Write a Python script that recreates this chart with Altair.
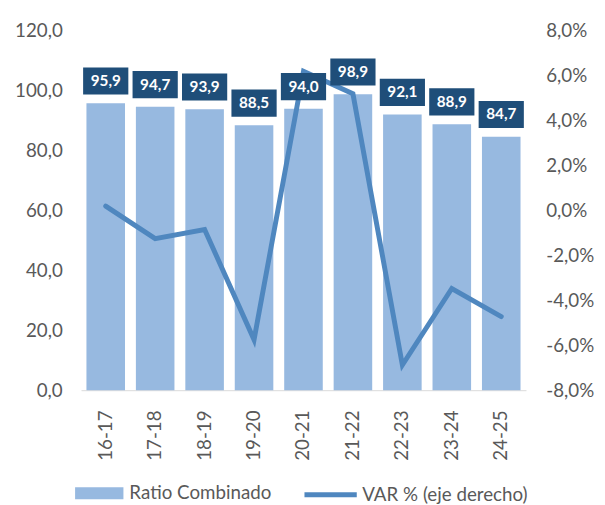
import altair as alt
import pandas as pd

categories = ["16-17", "17-18", "18-19", "19-20", "20-21", "21-22", "22-23", "23-24", "24-25"]
ratio = [95.9, 94.7, 93.9, 88.5, 94.0, 98.9, 92.1, 88.9, 84.7]
var_pct = [0.002, -0.0125, -0.0084, -0.0575, 0.0621, 0.0521, -0.0688, -0.0347, -0.0472]

df = pd.DataFrame({
    "cat": categories,
    "ratio": ratio,
    "var": var_pct,
    "s1": "Ratio Combinado",
    "s2": "VAR % (eje derecho)",
})

FONT = "Lato"
GRAY = "#595959"
BAR = "#97B9E0"
BOX = "#1F4E79"
LINE = "#4F87BF"
FS = 19

x = alt.X("cat:N", sort=categories, title=None,
          scale=alt.Scale(paddingInner=0.22, paddingOuter=0.11),
          axis=alt.Axis(labelAngle=-90, labelFontSize=FS, labelColor=GRAY, labelFont=FONT,
                        ticks=False, domainColor="#D9D9D9", labelPadding=20))

yscale = alt.Scale(domain=[0, 120])

yleft = alt.Y("ratio:Q", title=None, scale=yscale,
              axis=alt.Axis(orient="left", values=[0, 20, 40, 60, 80, 100, 120], grid=False, ticks=False,
                            domain=False, labelFontSize=FS, labelColor=GRAY, labelFont=FONT, labelPadding=19,
                            labelExpr="replace(format(datum.value, '.1f'), '.', ',')"))
yhidden = alt.Y("ratio:Q", title=None, scale=yscale, axis=None)

base = alt.Chart(df)

bars = base.mark_bar(color=BAR).encode(
    x=x,
    y=yleft,
    color=alt.Color("s1:N", title=None,
                    scale=alt.Scale(range=[BAR]),
                    legend=alt.Legend(orient="none", legendX=6, legendY=456,
                                      symbolType="M-2,-0.5H2V0.5H-2Z", symbolSize=600,
                                      symbolStrokeWidth=0, symbolOpacity=1,
                                      labelFontSize=FS, labelColor=GRAY, labelFont=FONT,
                                      labelOffset=18, labelLimit=400)),
)

line = base.mark_line(strokeWidth=5, strokeCap="round", strokeJoin="miter").encode(
    x=x,
    y=alt.Y("var:Q", title=None, scale=alt.Scale(domain=[-0.08, 0.08]),
            axis=alt.Axis(orient="right", values=[-0.08, -0.06, -0.04, -0.02, 0, 0.02, 0.04, 0.06, 0.08],
                          grid=False, ticks=False, domain=False,
                          labelFontSize=FS, labelColor=GRAY, labelFont=FONT, labelPadding=20,
                          labelExpr="replace(replace(format(datum.value, '.1%'), '.', ','), '\u2212', '-')")),
    stroke=alt.Stroke("s2:N", title=None, scale=alt.Scale(range=[LINE]),
                      legend=alt.Legend(orient="none", legendX=224, legendY=441,
                                        symbolType="M-1,0H1", symbolSize=2809,
                                        symbolStrokeWidth=5,
                                        labelFontSize=FS, labelColor=GRAY, labelFont=FONT,
                                        labelOffset=3, labelLimit=400)),
)

boxes = base.mark_point(shape="M-1,-0.6H1V0.6H-1Z", size=2100, filled=True, opacity=1,
                        color=BOX, yOffset=-22.5).encode(x=x, y=yhidden)

labels = base.transform_calculate(
    lab="replace(format(datum.ratio, '.1f'), '.', ',')"
).mark_text(color="white", fontWeight="bold", fontSize=15.5, font=FONT, dy=-22.5).encode(
    x=x, y=yhidden, text="lab:N")

chart = alt.layer(bars, line, boxes, labels).resolve_scale(
    y="independent", color="independent", stroke="independent"
).properties(
    width=451, height=364,
    autosize=alt.AutoSizeParams(type="none"),
    padding={"left": 74, "top": 20, "right": 72, "bottom": 113},
).configure_view(stroke=None)

chart.save("out.html", embed_options={"renderer": "svg", "actions": False})
